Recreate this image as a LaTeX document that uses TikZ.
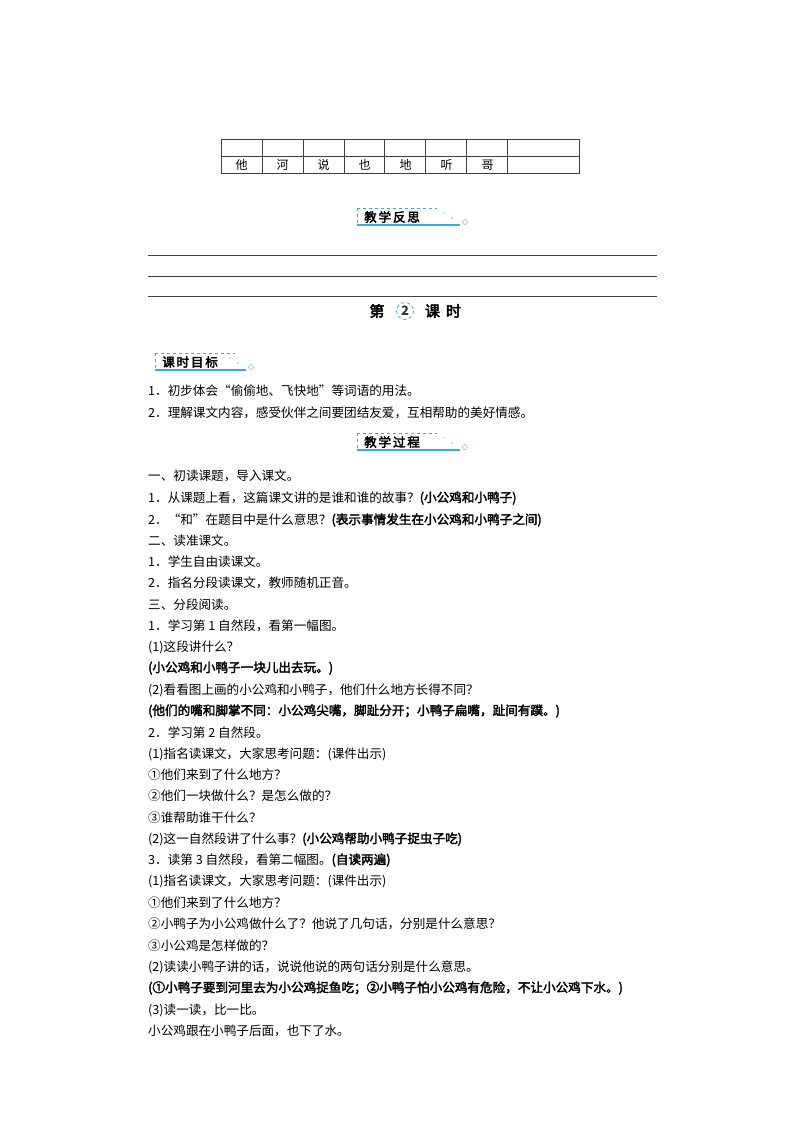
\documentclass[tikz,border=0pt]{standalone}
\usepackage{fontspec}
\setmainfont{Noto Sans CJK SC}
\newfontfamily\bfc[FakeBold=2.5]{Noto Sans CJK SC}
\newfontfamily\hdr[FakeBold=3]{Noto Sans CJK SC}
\definecolor{cy}{RGB}{60,170,215}
\begin{document}
\begin{tikzpicture}[x=1pt,y=-1pt,
  ln/.style={anchor=west,inner sep=0pt,font=\fontsize{12.6}{14}\selectfont},
  cell/.style={inner sep=0pt,font=\fontsize{12}{14}\selectfont},
  rule/.style={draw=black!75,line width=0.7pt}]
\useasboundingbox (0,0) rectangle (800,1132);
% table
\draw[rule] (221,139) rectangle (579,173);
\draw[rule] (221,156) -- (579,156);
\foreach \x in {262,303,344,384,425,466,507}{\draw[rule] (\x,139)--(\x,173);}
\foreach \c [count=\i] in {他,河,说,也,地,听,哥}{
  \node[cell] (t\i) at ({221+41*(\i-1)+20.5},165) {\c};}
% header boxes
\newcommand\hdrbox[4]{%
  \draw[cy,dashed,line width=0.8pt] (#1,{#3-9}) -- ({#1+80},{#3-9});
  \draw[cy,dashed,line width=0.8pt] (#1,{#3-9}) -- (#1,{#3+6});
  \draw[cy,line width=1.3pt] (#1,{#3+8}) -- ({#2-10},{#3+8});
  \draw[cy!60,line width=0.6pt] ({#2-8},{#3+5}) -- ++(3,-3) -- ++(3,3) -- ++(-3,3) -- cycle;
  \fill[cy!50] ({#2-18},{#3+1}) circle (1.1);
  \fill[cy!40] ({#2-26},{#3-4}) circle (0.8);
  \node[inner sep=0pt,anchor=west,font=\hdr\fontsize{12.5}{14}\selectfont] (#4) at ({#1+7},#3) {\addfontfeatures{LetterSpace=15}#4};}
\hdrbox{357}{470}{217}{教学反思}
\hdrbox{155}{256}{362}{课时目标}
\hdrbox{357}{470}{442}{教学过程}
% lines
\foreach \y in {255,276,296}{\draw[black!75,line width=0.6pt] (148,\y)--(657,\y);}
% title
\node[inner sep=0pt,font=\hdr\fontsize{15}{17}\selectfont] (t1a) at (377,311) {第};
\draw[cy,dashed,line width=0.8pt] (405,311) circle (8.5);
\node[inner sep=0pt,font=\bfseries\fontsize{13}{15}\selectfont,text=black!80] (t2a) at (405,311) {2};
\node[inner sep=0pt,font=\hdr\fontsize{15}{17}\selectfont] (t3a) at (443,311) {课\hspace{6pt}时};
% text
\node[ln] (l1) at (148,391) {1．初步体会“偷偷地、飞快地”等词语的用法。};
\node[ln] (l2) at (148,413) {2．理解课文内容，感受伙伴之间要团结友爱，互相帮助的美好情感。};
\node[ln] (l3) at (148,476) {一、初读课题，导入课文。};
\node[ln] (l4) at (148,498) {1．从课题上看，这篇课文讲的是谁和谁的故事？{\bfc (小公鸡和小鸭子)}};
\node[ln] (l5) at (148,520) {2．“和”在题目中是什么意思？{\bfc (表示事情发生在小公鸡和小鸭子之间)}};
\node[ln] (l6) at (148,541) {二、读准课文。};
\node[ln] (l7) at (148,562) {1．学生自由读课文。};
\node[ln] (l8) at (148,583) {2．指名分段读课文，教师随机正音。};
\node[ln] (l9) at (148,605) {三、分段阅读。};
\node[ln] (l10) at (148,626) {1．学习第 1 自然段，看第一幅图。};
\node[ln] (l11) at (148,647) {(1)这段讲什么？};
\node[ln] (l12) at (148,668) {\bfc (小公鸡和小鸭子一块儿出去玩。)};
\node[ln] (l13) at (148,690) {(2)看看图上画的小公鸡和小鸭子，他们什么地方长得不同？};
\node[ln] (l14) at (148,711) {\bfc (他们的嘴和脚掌不同：小公鸡尖嘴，脚趾分开；小鸭子扁嘴，趾间有蹼。)};
\node[ln] (l15) at (148,733) {2．学习第 2 自然段。};
\node[ln] (l16) at (148,754) {(1)指名读课文，大家思考问题：(课件出示)};
\node[ln] (l17) at (148,775) {①他们来到了什么地方？};
\node[ln] (l18) at (148,796) {②他们一块做什么？是怎么做的？};
\node[ln] (l19) at (148,818) {③谁帮助谁干什么？};
\node[ln] (l20) at (148,839) {(2)这一自然段讲了什么事？{\bfc (小公鸡帮助小鸭子捉虫子吃)}};
\node[ln] (l21) at (148,860) {3．读第 3 自然段，看第二幅图。{\bfc (自读两遍)}};
\node[ln] (l22) at (148,881) {(1)指名读课文，大家思考问题：(课件出示)};
\node[ln] (l23) at (148,903) {①他们来到了什么地方？};
\node[ln] (l24) at (148,924) {②小鸭子为小公鸡做什么了？他说了几句话，分别是什么意思？};
\node[ln] (l25) at (148,946) {③小公鸡是怎样做的？};
\node[ln] (l26) at (148,967) {(2)读读小鸭子讲的话，说说他说的两句话分别是什么意思。};
\node[ln] (l27) at (148,988) {\bfc (①小鸭子要到河里去为小公鸡捉鱼吃；②小鸭子怕小公鸡有危险，不让小公鸡下水。)};
\node[ln] (l28) at (148,1010) {(3)读一读，比一比。};
\node[ln] (l29) at (148,1031) {小公鸡跟在小鸭子后面，也下了水。};
\end{tikzpicture}
\end{document}
